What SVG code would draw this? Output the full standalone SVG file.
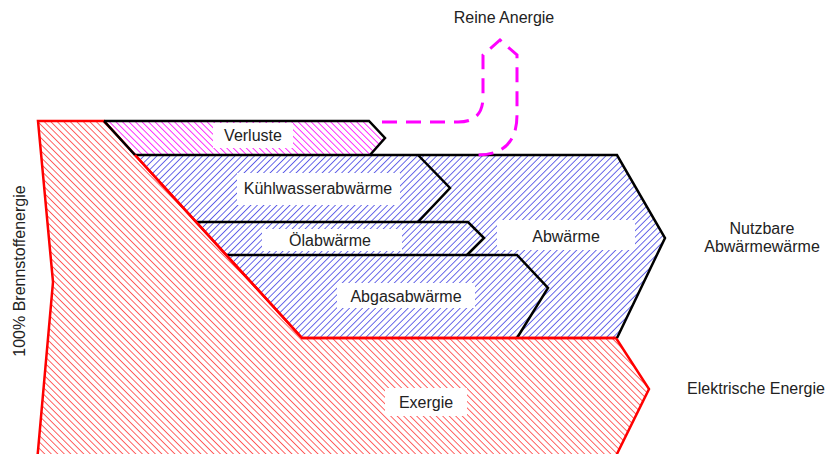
<svg xmlns="http://www.w3.org/2000/svg" width="829" height="454" viewBox="0 0 829 454">
<defs>
<pattern id="hRed" width="4.6" height="4.6" patternUnits="userSpaceOnUse" patternTransform="rotate(-45)">
<line x1="0" y1="0" x2="0" y2="4.6" stroke="#ff2020" stroke-width="1.4"/>
</pattern>
<pattern id="hBlue" width="4.6" height="4.6" patternUnits="userSpaceOnUse" patternTransform="rotate(45)">
<line x1="0" y1="0" x2="0" y2="4.6" stroke="#2a2ae0" stroke-width="1.4"/>
</pattern>
<pattern id="hMag" width="4.6" height="4.6" patternUnits="userSpaceOnUse" patternTransform="rotate(-45)">
<line x1="0" y1="0" x2="0" y2="4.6" stroke="#ff22ff" stroke-width="1.9"/>
</pattern>
</defs>
<style>
text{font-family:"Liberation Sans",Arial,sans-serif;font-size:16px;fill:#222;text-anchor:middle}
.blk{fill:none;stroke:#000;stroke-width:2.5;stroke-linejoin:miter}
.lbl{fill:#fff}
</style>
<rect width="829" height="454" fill="#fff"/>
<g id="abwaerme">
<polygon points="135,155 617,155 665,238 617,338 302,338" fill="url(#hBlue)"/>
</g>
<g id="verluste">
<polygon points="104,121 369,121 385,138 370,155 135,155" fill="url(#hMag)"/>
</g>
<g id="exergie">
<polygon points="38,121 104,121 302,338 616,338 649,389 613,462 37,462 53,282" fill="url(#hRed)" stroke="#ff0000" stroke-width="2.5"/>
</g>
<g id="connectors">
<path class="blk" d="M104,121 H369 L385,138 L370,155"/>
<path class="blk" d="M104,121 L135,155"/>
<path class="blk" d="M135,155 H617 L665,238 L617,338"/>
<path class="blk" d="M418,155 L450,188 L418,222"/>
<path class="blk" d="M196,222 H468 L484,238 L467,255"/>
<path class="blk" d="M226,255 H517 L548,288 L517,338"/>
<path d="M135,155 L302,338 H616" fill="none" stroke="#ff0000" stroke-width="2.5"/>
<path d="M382,122 H458 Q483,122 483,97 V55 L500,40 L517,55 V115 Q517,155 477,155" fill="none" stroke="#ff00ff" stroke-width="3" stroke-dasharray="15 9"/>
</g>
<g id="labels">
<rect class="lbl" x="213" y="123" width="80" height="25"/>
<text x="253" y="141">Verluste</text>
<rect class="lbl" x="237" y="173" width="163" height="32"/>
<text x="318" y="194">Kühlwasserabwärme</text>
<rect class="lbl" x="262" y="229" width="140" height="22"/>
<text x="330" y="246">Ölabwärme</text>
<rect class="lbl" x="497" y="220" width="138" height="30"/>
<text x="566" y="242">Abwärme</text>
<rect class="lbl" x="337" y="283" width="138" height="25"/>
<text x="406" y="302">Abgasabwärme</text>
<rect class="lbl" x="385" y="388" width="82" height="28"/>
<text x="426" y="408">Exergie</text>
</g>
<g id="outer-text">
<text x="504" y="23">Reine Anergie</text>
<text x="762" y="234">Nutzbare</text>
<text x="762" y="252">Abwärmewärme</text>
<text x="756" y="394">Elektrische Energie</text>
<text transform="translate(25,271) rotate(-90)">100% Brennstoffenergie</text>
</g>
</svg>
